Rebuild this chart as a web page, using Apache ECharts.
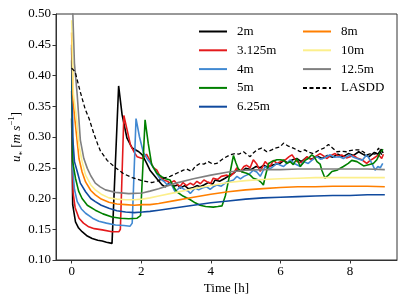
<!DOCTYPE html>
<html><head><meta charset="utf-8">
<script src="https://cdn.jsdelivr.net/npm/echarts@6/dist/echarts.min.js"></script>
<style>html,body{margin:0;padding:0;background:#fff}#c{width:407px;height:305px}</style>
</head><body><div id="c"></div>
<script>
const seriesNames = ['2m','3.125m','4m','5m','6.25m','8m','10m','12.5m','LASDD'];
const xTicks = [0,2,4,6,8];
const yTicks = [0.10,0.15,0.20,0.25,0.30,0.35,0.40,0.45,0.50];

const s2m = [[0,0.33],[0.03,0.19],[0.11,0.162],[0.2,0.152],[0.3,0.146],[0.45,0.139],[0.59,0.135],[0.75,0.132],[0.88,0.131],[1.0,0.129],[1.16,0.127],[1.21,0.128],[1.35,0.383],[1.45,0.336],[1.59,0.298],[1.74,0.282],[1.93,0.276],[2.03,0.271],[2.15,0.258],[2.25,0.246],[2.45,0.232],[2.6,0.222],[2.69,0.219],[2.8,0.225],[2.93,0.22],[3.05,0.222],[3.12,0.217],[3.25,0.221],[3.35,0.216],[3.5,0.218],[3.6,0.221],[3.69,0.219],[3.8,0.222],[3.93,0.226],[4.05,0.223],[4.12,0.23],[4.25,0.228],[4.41,0.233],[4.55,0.238],[4.65,0.241],[4.75,0.246],[4.9,0.244],[5.0,0.249],[5.15,0.247],[5.3,0.252],[5.42,0.25],[5.51,0.254],[5.65,0.251],[5.8,0.255],[5.99,0.257],[6.1,0.262],[6.2,0.258],[6.35,0.263],[6.47,0.265],[6.6,0.26],[6.75,0.267],[6.9,0.264],[7.05,0.269],[7.2,0.265],[7.35,0.27],[7.5,0.267],[7.65,0.272],[7.8,0.268],[7.95,0.273],[8.1,0.27],[8.25,0.276],[8.4,0.271],[8.55,0.268],[8.7,0.275],[8.8,0.272],[8.9,0.28],[8.95,0.274]];
const s3m = [[0,0.375],[0.04,0.21],[0.1,0.185],[0.21,0.168],[0.34,0.16],[0.49,0.154],[0.65,0.151],[0.88,0.149],[1.16,0.146],[1.36,0.146],[1.40,0.15],[1.50,0.335],[1.6,0.31],[1.69,0.287],[1.8,0.275],[1.88,0.268],[2.03,0.265],[2.15,0.272],[2.25,0.262],[2.35,0.25],[2.45,0.246],[2.54,0.236],[2.64,0.23],[2.75,0.228],[2.83,0.225],[2.95,0.229],[3.05,0.222],[3.12,0.22],[3.2,0.226],[3.3,0.221],[3.41,0.225],[3.5,0.222],[3.6,0.228],[3.7,0.224],[3.8,0.23],[3.9,0.227],[4.0,0.225],[4.07,0.233],[4.2,0.231],[4.3,0.236],[4.46,0.238],[4.55,0.236],[4.65,0.241],[4.75,0.25],[4.85,0.244],[4.95,0.252],[5.03,0.254],[5.13,0.25],[5.22,0.263],[5.32,0.256],[5.42,0.244],[5.56,0.26],[5.7,0.252],[5.8,0.262],[5.9,0.257],[6.0,0.26],[6.14,0.263],[6.25,0.268],[6.33,0.271],[6.47,0.26],[6.6,0.258],[6.76,0.268],[6.9,0.263],[7.0,0.268],[7.14,0.273],[7.25,0.269],[7.33,0.265],[7.45,0.27],[7.57,0.273],[7.68,0.268],[7.76,0.271],[7.9,0.266],[8.0,0.268],[8.1,0.27],[8.2,0.266],[8.34,0.263],[8.48,0.257],[8.58,0.262],[8.67,0.265],[8.82,0.271],[8.91,0.265],[8.96,0.272]];
const s4m = [[0,0.445],[0.03,0.25],[0.08,0.215],[0.16,0.195],[0.28,0.183],[0.40,0.176],[0.6,0.168],[0.78,0.163],[1.0,0.16],[1.26,0.157],[1.5,0.156],[1.68,0.155],[1.74,0.16],[1.85,0.330],[1.95,0.30],[2.06,0.275],[2.2,0.262],[2.3,0.255],[2.45,0.24],[2.54,0.232],[2.65,0.228],[2.75,0.222],[2.85,0.225],[2.97,0.211],[3.05,0.215],[3.12,0.219],[3.2,0.216],[3.26,0.214],[3.35,0.212],[3.41,0.208],[3.55,0.217],[3.65,0.214],[3.75,0.217],[3.88,0.219],[3.98,0.215],[4.07,0.219],[4.17,0.222],[4.3,0.22],[4.46,0.227],[4.55,0.228],[4.65,0.23],[4.75,0.236],[4.85,0.232],[4.95,0.236],[5.03,0.238],[5.13,0.241],[5.22,0.246],[5.32,0.243],[5.42,0.236],[5.56,0.252],[5.65,0.248],[5.75,0.25],[5.9,0.257],[6.0,0.254],[6.09,0.252],[6.2,0.258],[6.28,0.263],[6.4,0.257],[6.47,0.255],[6.57,0.252],[6.66,0.26],[6.8,0.257],[6.9,0.262],[7.05,0.268],[7.15,0.264],[7.25,0.266],[7.43,0.271],[7.55,0.267],[7.7,0.268],[7.81,0.265],[7.9,0.268],[8.0,0.271],[8.1,0.267],[8.2,0.265],[8.35,0.262],[8.48,0.271],[8.55,0.265],[8.63,0.257],[8.72,0.246],[8.8,0.252],[8.87,0.25],[8.94,0.257]];
const s5m = [[0,0.425],[0.03,0.26],[0.11,0.233],[0.2,0.212],[0.30,0.2],[0.45,0.189],[0.68,0.181],[0.9,0.175],[1.16,0.170],[1.4,0.168],[1.64,0.167],[1.88,0.168],[1.98,0.172],[2.11,0.328],[2.2,0.29],[2.3,0.255],[2.45,0.241],[2.6,0.235],[2.7,0.232],[2.83,0.23],[2.92,0.22],[3.02,0.211],[3.2,0.204],[3.41,0.198],[3.55,0.193],[3.69,0.189],[3.85,0.187],[4.07,0.186],[4.2,0.187],[4.32,0.188],[4.42,0.205],[4.51,0.23],[4.58,0.25],[4.65,0.27],[4.72,0.258],[4.79,0.248],[4.9,0.243],[5.03,0.241],[5.13,0.238],[5.22,0.233],[5.37,0.23],[5.45,0.226],[5.51,0.222],[5.56,0.235],[5.66,0.257],[5.75,0.26],[5.9,0.263],[5.99,0.263],[6.1,0.262],[6.18,0.257],[6.28,0.26],[6.37,0.255],[6.47,0.265],[6.52,0.262],[6.57,0.252],[6.66,0.258],[6.71,0.262],[6.8,0.265],[6.9,0.271],[6.97,0.268],[7.05,0.26],[7.14,0.256],[7.19,0.246],[7.28,0.233],[7.38,0.238],[7.48,0.244],[7.62,0.246],[7.81,0.252],[7.95,0.257],[8.05,0.262],[8.2,0.26],[8.39,0.253],[8.53,0.255],[8.67,0.257],[8.77,0.263],[8.87,0.275],[8.95,0.28]];
const s6m = [[0,0.45],[0.03,0.30],[0.08,0.26],[0.16,0.244],[0.25,0.225],[0.40,0.211],[0.55,0.2],[0.68,0.195],[0.85,0.189],[1.07,0.184],[1.3,0.18],[1.55,0.178],[1.8,0.177],[2.03,0.178],[2.25,0.179],[2.5,0.181],[3,0.185],[3.5,0.189],[4,0.193],[4.5,0.196],[5,0.199],[5.5,0.201],[6,0.202],[6.5,0.203],[7,0.204],[7.5,0.205],[8,0.205],[8.5,0.206],[9,0.206]];
const s8m = [[0,0.47],[0.04,0.36],[0.09,0.33],[0.21,0.265],[0.3,0.243],[0.40,0.227],[0.55,0.213],[0.68,0.206],[0.85,0.199],[1.07,0.194],[1.3,0.191],[1.55,0.19],[1.8,0.189],[2.03,0.19],[2.25,0.19],[2.5,0.192],[3,0.197],[3.5,0.202],[4,0.207],[4.5,0.211],[5,0.214],[5.5,0.216],[6,0.218],[6.5,0.219],[7,0.219],[7.5,0.22],[8,0.22],[8.5,0.22],[9,0.219]];
const s10m = [[0,0.49],[0.05,0.37],[0.13,0.336],[0.21,0.287],[0.3,0.26],[0.40,0.238],[0.55,0.222],[0.68,0.214],[0.85,0.207],[1.07,0.201],[1.3,0.199],[1.55,0.198],[1.8,0.198],[2.03,0.199],[2.25,0.201],[2.5,0.204],[3,0.21],[3.5,0.216],[4,0.221],[4.5,0.226],[5,0.229],[5.5,0.231],[6,0.232],[6.5,0.233],[7,0.234],[7.5,0.234],[8,0.234],[8.5,0.234],[9,0.234]];
const s12m = [[0,0.56],[0.08,0.42],[0.16,0.368],[0.25,0.295],[0.35,0.265],[0.45,0.249],[0.55,0.237],[0.68,0.225],[0.82,0.219],[0.97,0.214],[1.26,0.21],[1.64,0.208],[2.03,0.209],[2.25,0.212],[2.5,0.216],[3,0.225],[3.5,0.232],[4,0.238],[4.5,0.243],[5,0.246],[5.5,0.247],[6,0.247],[6.5,0.248],[7,0.248],[7.5,0.248],[8,0.248],[8.5,0.248],[9,0.247]];
const sLASDD = [[0,0.412],[0.1,0.406],[0.24,0.375],[0.39,0.345],[0.5,0.33],[0.64,0.305],[0.75,0.288],[0.83,0.277],[1.02,0.262],[1.26,0.25],[1.5,0.24],[1.74,0.234],[2.03,0.229],[2.3,0.226],[2.45,0.228],[2.64,0.233],[2.83,0.236],[3.02,0.241],[3.21,0.246],[3.3,0.248],[3.45,0.244],[3.55,0.252],[3.69,0.257],[3.8,0.256],[3.93,0.26],[4.05,0.256],[4.17,0.257],[4.36,0.265],[4.55,0.271],[4.7,0.273],[4.8,0.272],[4.94,0.276],[5.05,0.271],[5.13,0.268],[5.22,0.274],[5.32,0.279],[5.46,0.282],[5.61,0.276],[5.75,0.279],[5.85,0.282],[5.99,0.284],[6.09,0.29],[6.23,0.285],[6.37,0.282],[6.47,0.279],[6.57,0.276],[6.7,0.279],[6.82,0.275],[6.95,0.273],[7.0,0.276],[7.12,0.279],[7.25,0.282],[7.38,0.288],[7.48,0.283],[7.62,0.276],[7.75,0.277],[7.9,0.276],[8.0,0.278],[8.1,0.279],[8.25,0.279],[8.38,0.276],[8.48,0.271],[8.6,0.273],[8.72,0.272],[8.82,0.282],[8.91,0.271]];

const seriesData = [s2m,s3m,s4m,s5m,s6m,s8m,s10m,s12m,sLASDD];
const colors = ['#000000','#e41a1c','#4189d2','#008000','#104a9e','#ff7f00','#fcef8c','#808080','#000000'];

const FONT = 'Liberation Serif';
const chart = echarts.init(document.getElementById('c'), null, {renderer:'canvas'});
const series = seriesNames.map((n,i)=>({
  name:n, type:'line', data:seriesData[i], symbol:'none', showSymbol:false,
  clip:true, animation:false,
  lineStyle:{color:colors[i], width: i===8?1.3:1.6, type: i===8?[4,2.5]:'solid'},
  itemStyle:{color:colors[i]}
}));
function legendItems(names){
  return names.map(n=>({name:n}));
}
const legendCommon = {orient:'vertical', itemWidth:28, itemHeight:10, itemGap:5.8,
  itemStyle:{opacity:0},
  textStyle:{fontFamily:FONT, fontSize:13, color:'#000', padding:[0,0,0,5]}};
chart.setOption({
  animation:false,
  grid:{left:56, right:10, top:14, bottom:45, show:true, borderColor:'#333', borderWidth:1,
        containLabel:false, outerBoundsMode:'none'},
  legend:[
    Object.assign({data:legendItems(seriesNames.slice(0,5)), left:193, top:20}, legendCommon),
    Object.assign({data:legendItems(seriesNames.slice(5)), left:297, top:20}, legendCommon)
  ],
  xAxis:{type:'value', min:-0.45, max:9.35,
    name:'Time [h]', nameLocation:'middle', nameGap:22, nameMoveOverlap:false,
    nameTextStyle:{fontFamily:FONT, fontSize:13, color:'#000'},
    axisLine:{show:true, onZero:false, lineStyle:{color:'#333', width:1}},
    axisTick:{show:true, length:3.5, customValues:xTicks, lineStyle:{color:'#333'}},
    axisLabel:{customValues:xTicks, margin:5, fontFamily:FONT, fontSize:13, color:'#000'},
    splitLine:{show:false}},
  yAxis:{type:'value', min:0.10, max:0.50, interval:0.05,
    name:'{it|u}{sub|*} [{it|m s}{sup|−1}]', nameLocation:'middle', nameGap:29, nameRotate:90,
    nameMoveOverlap:false,
    nameTextStyle:{fontFamily:FONT, fontSize:13, color:'#000',
      rich:{
        it:{fontFamily:FONT, fontStyle:'italic', fontSize:13, color:'#000', lineHeight:20},
        sub:{fontFamily:FONT, fontSize:9, color:'#000', lineHeight:12, verticalAlign:'bottom'},
        sup:{fontFamily:FONT, fontSize:9, color:'#000', lineHeight:12, verticalAlign:'top'}
      }},
    axisLine:{show:true, onZero:false, lineStyle:{color:'#333', width:1}},
    axisTick:{show:true, length:3.5, lineStyle:{color:'#333'}},
    axisLabel:{margin:5, fontFamily:FONT, fontSize:13, color:'#000', formatter:v=>v.toFixed(2)},
    splitLine:{show:false}},
  series:series
});
</script></body></html>
